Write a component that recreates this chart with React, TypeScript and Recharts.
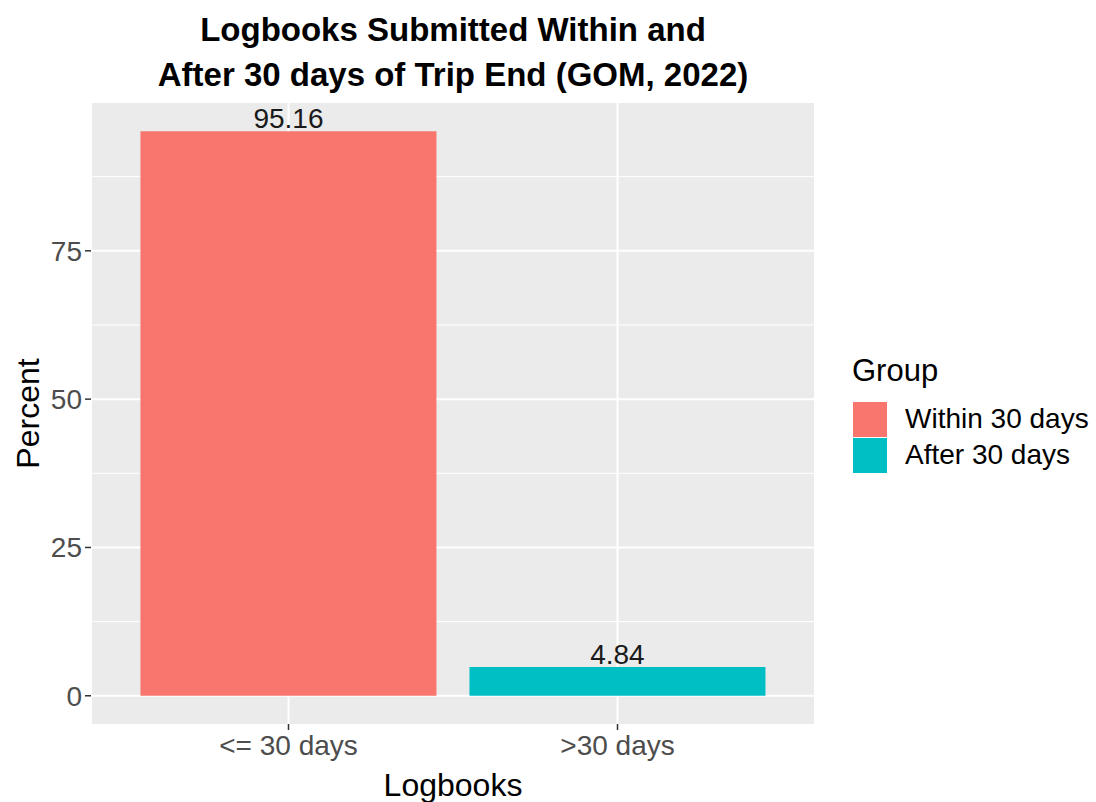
import * as React from 'react'
import { Bar, BarChart, CartesianGrid, Cell, Label, LabelList, XAxis, YAxis } from 'recharts'

const categories = ['<= 30 days', '>30 days']
const groups = ['Within 30 days', 'After 30 days']
const percents = [95.16, 4.84]
const colors = ['#F8766D', '#00BFC4']
const majorTicks = [0, 25, 50, 75]
const minorTicks = [12.5, 37.5, 62.5, 87.5]

const FONT = '"Liberation Sans", Arial, sans-serif'

const data = categories.map((c, i) => ({ cat: c, group: groups[i], value: percents[i] }))

// ggplot-ish expansion: 5% of range on both ends
const maxV = Math.max(...percents)
const yDomain = [-maxV * 0.05, maxV * 1.05]

function PercentLabel(props: any) {
  const vb = props.viewBox
  const cy = vb.y + vb.height / 2
  return (
    <text
      x={39}
      y={cy}
      transform={`rotate(-90, 39, ${cy})`}
      textAnchor="middle"
      fontSize={32}
      fontFamily={FONT}
      fill="#000"
    >
      Percent
    </text>
  )
}

export default function App() {
  return (
    <div style={{ position: 'absolute', left: 0, top: 0, width: 1096, height: 802, background: '#fff', fontFamily: FONT }}>
      <div
        style={{
          position: 'absolute',
          left: 91,
          width: 724,
          top: 7,
          textAlign: 'center',
          fontWeight: 'bold',
          fontSize: 33,
          lineHeight: '45px',
          color: '#000',
          whiteSpace: 'nowrap',
        }}
      >
        Logbooks Submitted Within and
        <br />
        After 30 days of Trip End (GOM, 2022)
      </div>

      <BarChart
        width={1096}
        height={802}
        data={data}
        margin={{ top: 103, right: 281, bottom: 0, left: 0 }}
        barCategoryGap="5%"
        style={{ position: 'absolute', left: 0, top: 0 }}
      >
        <CartesianGrid fill="#EBEBEB" stroke="#fff" strokeWidth={1} vertical={false} horizontalValues={minorTicks} />
        <CartesianGrid fill="none" stroke="#fff" strokeWidth={2} horizontalValues={majorTicks} />
        <XAxis
          dataKey="cat"
          height={78}
          padding={{ left: 33, right: 33 }}
          axisLine={false}
          tickLine={{ stroke: '#333', strokeWidth: 1.5 }}
          tickSize={6}
          tickMargin={5}
          tick={{ fill: '#4D4D4D', fontSize: 28, fontFamily: FONT }}
        >
          <Label value="Logbooks" position="insideBottom" offset={6} fontSize={32} fontFamily={FONT} fill="#000" />
        </XAxis>
        <YAxis
          type="number"
          width={91}
          domain={yDomain}
          ticks={majorTicks}
          allowDataOverflow
          axisLine={false}
          tickLine={{ stroke: '#333', strokeWidth: 1.5 }}
          tickSize={6}
          tickMargin={3}
          tick={{ fill: '#4D4D4D', fontSize: 28, fontFamily: FONT }}
        >
          <Label content={PercentLabel} />
        </YAxis>
        <Bar dataKey="value" isAnimationActive={false}>
          {data.map((d, i) => (
            <Cell key={d.cat} fill={colors[i]} />
          ))}
          <LabelList dataKey="value" position="top" offset={3} fill="#1a1a1a" fontSize={28} fontFamily={FONT} />
        </Bar>
      </BarChart>

      <div style={{ position: 'absolute', left: 852, top: 351, color: '#000' }}>
        <div style={{ fontSize: 31, lineHeight: '40px', marginBottom: 10 }}>Group</div>
        {groups.map((g, i) => (
          <div key={g} style={{ display: 'flex', alignItems: 'center', height: 36 }}>
            <div style={{ width: 34, height: 35, background: colors[i], marginLeft: 1 }} />
            <span style={{ marginLeft: 18, fontSize: 28, whiteSpace: 'nowrap' }}>{g}</span>
          </div>
        ))}
      </div>
    </div>
  )
}
